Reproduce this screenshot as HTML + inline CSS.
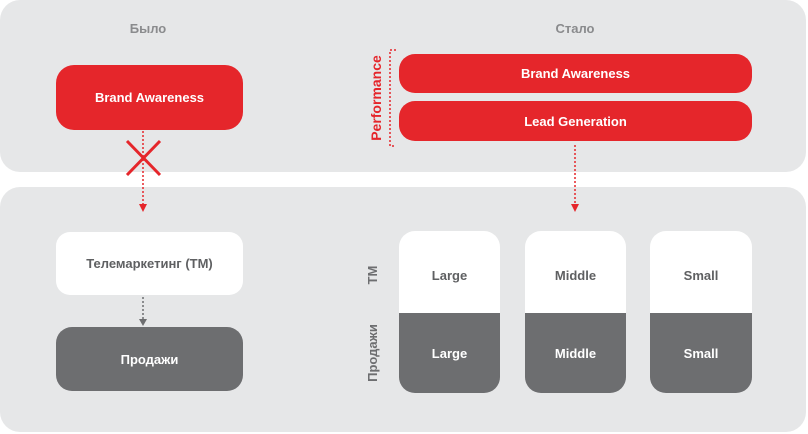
<!DOCTYPE html>
<html><head><meta charset="utf-8"><style>
body{margin:0;width:808px;height:434px;background:#fff;position:relative;overflow:hidden;font-family:"Liberation Sans","DejaVu Sans",sans-serif;font-weight:bold}
div{position:absolute;box-sizing:border-box}
.p{background:#e6e7e8;border-radius:20px}
.c{display:flex;align-items:center;justify-content:center;font-size:13px}
.r{background:#e5262b;color:#fff}
.w{background:#fff;color:#5f6062}
.g{background:#6d6e70;color:#fff}
.t{color:#8a8b8d;font-size:13px;width:100px;text-align:center}
.v{transform:rotate(-90deg);transform-origin:center;font-size:13px;white-space:nowrap;text-align:center}
.d{padding-top:6px}
</style></head><body>
<div class="p" style="left:0;top:0;width:806px;height:172px"></div>
<div class="p" style="left:0;top:187px;width:806px;height:245px"></div>
<div class="t" style="left:98px;top:21px">Было</div>
<div class="t" style="left:525px;top:21px">Стало</div>
<div class="c r" style="left:56px;top:65px;width:187px;height:65px;border-radius:18px">Brand Awareness</div>
<div class="c w" style="left:56px;top:232px;width:187px;height:63px;border-radius:14px">Телемаркетинг (ТМ)</div>
<div class="c g" style="left:56px;top:327px;width:187px;height:64px;border-radius:16px">Продажи</div>
<div class="c r" style="left:399px;top:54px;width:353px;height:39px;border-radius:16px">Brand Awareness</div>
<div class="c r" style="left:399px;top:101px;width:353px;height:40px;border-radius:16px">Lead Generation</div>
<div class="v" style="left:327px;top:89px;width:100px;height:18px;color:#e5262b;font-size:14px">Performance</div>
<div class="v" style="left:334px;top:266px;width:80px;height:18px;color:#6d6e70">ТМ</div>
<div class="v" style="left:334px;top:344px;width:80px;height:18px;color:#6d6e70">Продажи</div>
<div class="c w d" style="left:399px;top:231px;width:101px;height:82px;border-radius:16px 16px 0 0">Large</div>
<div class="c g" style="left:399px;top:313px;width:101px;height:80px;border-radius:0 0 16px 16px">Large</div>
<div class="c w d" style="left:525px;top:231px;width:101px;height:82px;border-radius:16px 16px 0 0">Middle</div>
<div class="c g" style="left:525px;top:313px;width:101px;height:80px;border-radius:0 0 16px 16px">Middle</div>
<div class="c w d" style="left:650px;top:231px;width:102px;height:82px;border-radius:16px 16px 0 0">Small</div>
<div class="c g" style="left:650px;top:313px;width:102px;height:80px;border-radius:0 0 16px 16px">Small</div>
<svg width="808" height="434" style="position:absolute;left:0;top:0">
<g stroke="#e5262b" stroke-width="1.5" stroke-dasharray="2,2" fill="none">
<line x1="143" y1="131" x2="143" y2="206"/>
<line x1="575" y1="145" x2="575" y2="206"/>
<polyline points="396,50 390,50 390,146 396,146"/>
</g>
<polygon points="139,204 147,204 143,212" fill="#e5262b"/>
<polygon points="571,204 579,204 575,212" fill="#e5262b"/>
<g stroke="#e5262b" stroke-width="3"><line x1="127" y1="141" x2="160" y2="175"/><line x1="160" y1="141" x2="127" y2="175"/></g>
<line x1="143" y1="297" x2="143" y2="321" stroke="#6d6e70" stroke-width="1.5" stroke-dasharray="2,2"/>
<polygon points="139,319 147,319 143,326" fill="#6d6e70"/>
</svg>
</body></html>
